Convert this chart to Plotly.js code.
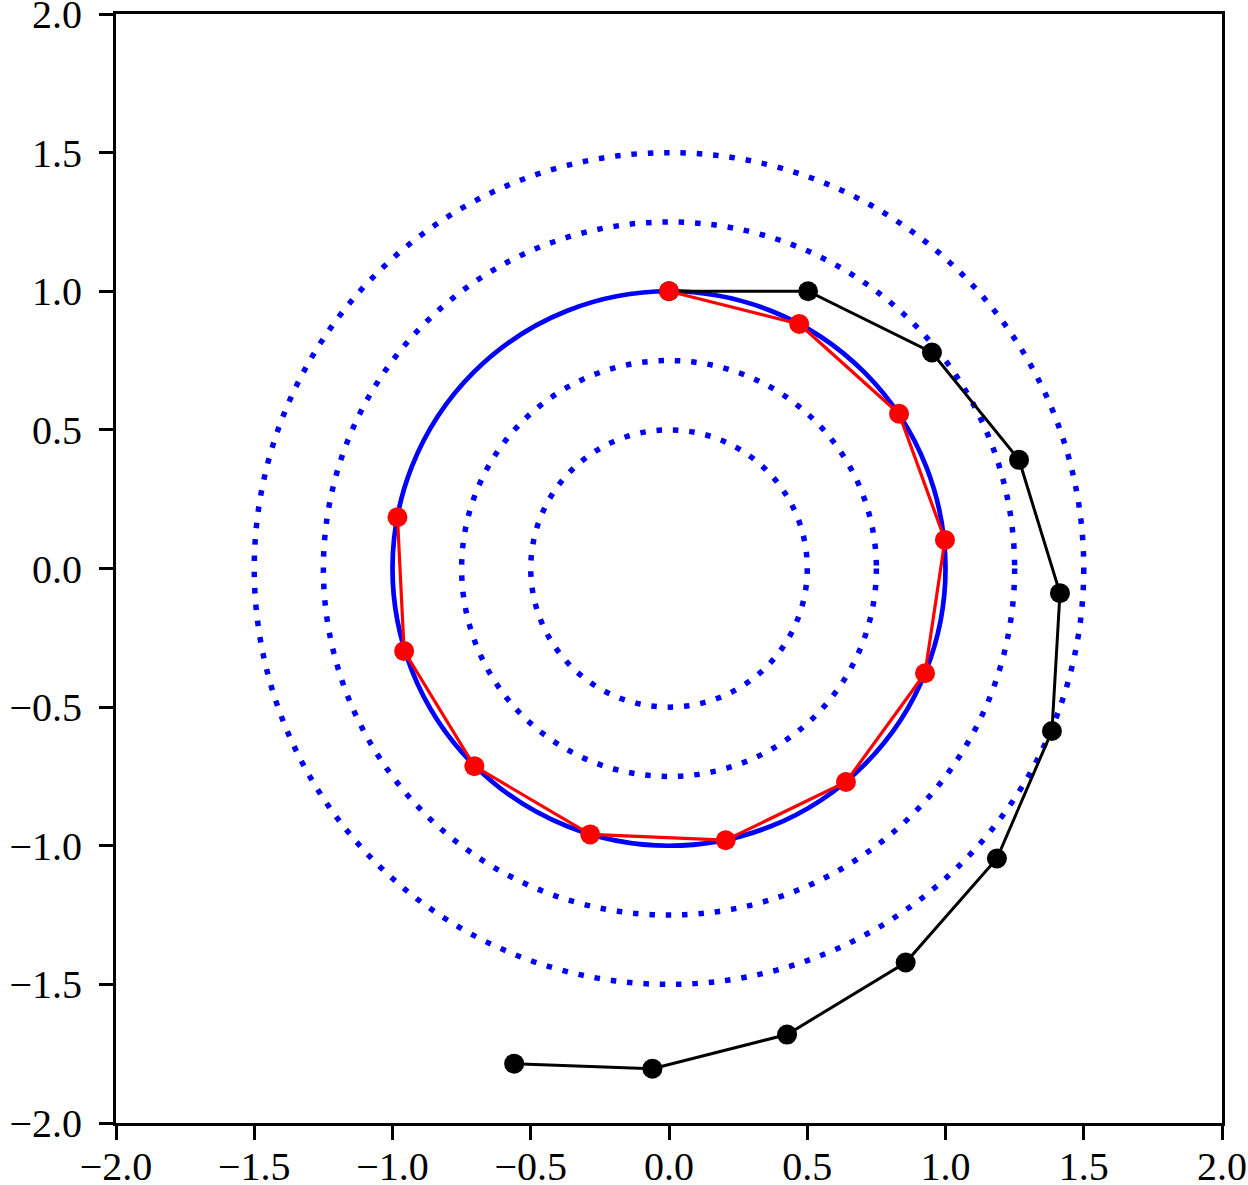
<!DOCTYPE html>
<html>
<head>
<meta charset="utf-8">
<script src="https://cdn.plot.ly/plotly-3.0.1.min.js"></script>
<style>html,body{margin:0;padding:0;background:#fff;}#chart{width:1248px;height:1185px;}</style>
</head>
<body>
<div id="chart"></div>
<script>
// Red series (points on the unit circle)
const redX = [0.000, 0.471, 0.832, 0.998, 0.926, 0.640, 0.205, -0.285, -0.704, -0.958, -0.982];
const redY = [1.000, 0.882, 0.558, 0.103, -0.378, -0.770, -0.980, -0.959, -0.713, -0.298, 0.185];
// Black series (spiralling outward)
const blackX = [0.000, 0.503, 0.951, 1.266, 1.414, 1.385, 1.186, 0.856, 0.427, -0.060, -0.560];
const blackY = [1.000, 1.000, 0.779, 0.392, -0.089, -0.586, -1.046, -1.421, -1.681, -1.804, -1.786];
// Circle radii
const solidRadius = 1.0;
const dottedRadii = [0.5, 0.75, 1.25, 1.5];
// Ticks
const tickVals = [-2.0, -1.5, -1.0, -0.5, 0.0, 0.5, 1.0, 1.5, 2.0];
const tickText = ['\u22122.0', '\u22121.5', '\u22121.0', '\u22120.5', '0.0', '0.5', '1.0', '1.5', '2.0'];

const shapes = [];
dottedRadii.forEach(r => {
  shapes.push({type: 'circle', xref: 'x', yref: 'y', x0: -r, x1: r, y0: -r, y1: r,
    layer: 'below', line: {color: '#0000ff', width: 5.5, dash: '5.5px,10.9px'}});
});
shapes.push({type: 'circle', xref: 'x', yref: 'y', x0: -solidRadius, x1: solidRadius,
  y0: -solidRadius, y1: solidRadius, layer: 'below', line: {color: '#0000ff', width: 4.7}});

const traces = [
  {x: blackX, y: blackY, mode: 'lines+markers', type: 'scatter',
   line: {color: '#000000', width: 3}, marker: {color: '#000000', size: 20}},
  {x: redX, y: redY, mode: 'lines+markers', type: 'scatter',
   line: {color: '#ff0000', width: 3.2}, marker: {color: '#ff0000', size: 20}}
];

const axisCommon = {
  range: [-2, 2], autorange: false,
  showgrid: false, zeroline: false,
  showline: true, mirror: true, linecolor: '#000', linewidth: 3,
  ticks: 'outside', ticklen: 14, tickwidth: 3, tickcolor: '#000',
  tickvals: tickVals, ticktext: tickText,
  ticklabeloverflow: 'allow',
  tickfont: {family: 'Liberation Serif, DejaVu Serif, serif', size: 40, color: '#000'}
};

const layout = {
  width: 1248, height: 1185,
  margin: {l: 116, r: 26, t: 14, b: 62, pad: 0},
  paper_bgcolor: '#fff', plot_bgcolor: '#fff',
  showlegend: false,
  xaxis: Object.assign({}, axisCommon, {ticklabelstandoff: -8}),
  yaxis: Object.assign({}, axisCommon, {ticklabelstandoff: 9}),
  shapes: shapes
};

Plotly.newPlot('chart', traces, layout, {displayModeBar: false, staticPlot: true});
</script>
</body>
</html>
